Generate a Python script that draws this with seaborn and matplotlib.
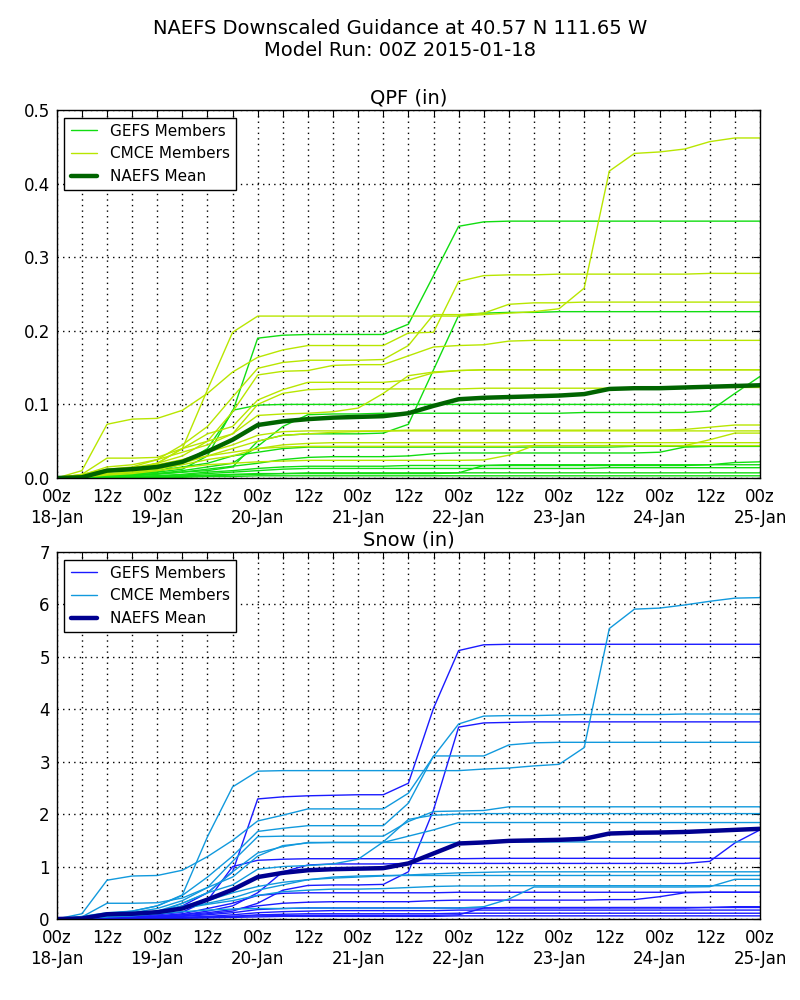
import pandas as pd
import matplotlib
matplotlib.use("Agg")
import matplotlib.pyplot as plt
from matplotlib.lines import Line2D
import seaborn as sns

# ------------------------------------------------------------
# forecast hours (6-hourly, 00z 18-Jan .. 00z 25-Jan)
# ------------------------------------------------------------
hours = [0, 6, 12, 18, 24, 30, 36, 42, 48, 54, 60, 66, 72, 78, 84, 90,
         96, 102, 108, 114, 120, 126, 132, 138, 144, 150, 156, 162, 168]
tick_labels = ["00z\n18-Jan", "", "12z", "", "00z\n19-Jan", "", "12z", "",
               "00z\n20-Jan", "", "12z", "", "00z\n21-Jan", "", "12z", "",
               "00z\n22-Jan", "", "12z", "", "00z\n23-Jan", "", "12z", "",
               "00z\n24-Jan", "", "12z", "", "00z\n25-Jan"]

# ------------------------------------------------------------
# QPF (in) - GEFS members
# ------------------------------------------------------------
qpf_gefs = [
    [0, .002, .004, .006, .008, .02, .04, .09, .19, .194, .195, .195, .195, .195, .209, .275,
     .342, .348, .349, .349, .349, .349, .349, .349, .349, .349, .349, .349, .349],
    [0, .001, .002, .003, .005, .008, .01, .015, .05, .058, .06, .06, .06, .061, .073, .147,
     .221, .224, .225, .225, .226, .226, .226, .226, .226, .226, .226, .226, .226],
    [0, .001, .003, .005, .008, .012, .03, .092, .099, .1, .1, .1, .1, .1, .1, .1,
     .1, .1, .1, .1, .1, .1, .1, .1, .1, .1, .1, .1, .1],
    [0, .001, .002, .004, .006, .01, .015, .02, .043, .07, .086, .087, .087, .088, .088, .088,
     .088, .088, .088, .088, .088, .089, .089, .089, .089, .089, .091, .115, .138],
    [0, .001, .002, .004, .006, .008, .012, .016, .02, .025, .028, .029, .029, .029, .03, .033,
     .034, .034, .034, .034, .034, .034, .034, .034, .035, .042, .043, .043, .043],
    [0, .001, .003, .006, .01, .015, .02, .03, .035, .04, .042, .042, .042, .042, .042, .042,
     .042, .042, .042, .042, .042, .042, .042, .043, .043, .043, .043, .043, .043],
    [0, 0, .001, .002, .003, .005, .008, .01, .013, .015, .016, .016, .016, .016, .017, .017,
     .017, .017, .017, .017, .017, .017, .017, .017, .017, .017, .018, .021, .022],
    [0, 0, .001, .001, .002, .003, .004, .005, .006, .006, .006, .006, .006, .006, .006, .006,
     .007, .017, .018, .018, .018, .018, .018, .018, .018, .018, .018, .018, .018],
    [0, 0, .001, .002, .003, .004, .006, .008, .01, .012, .013, .013, .013, .013, .013, .013,
     .013, .013, .013, .013, .013, .013, .014, .014, .014, .014, .014, .014, .014],
    [0, 0, 0, .001, .001, .002, .003, .004, .005, .006, .007, .007, .007, .007, .007, .007,
     .007, .007, .007, .007, .007, .007, .007, .007, .007, .007, .007, .007, .007],
    [0, 0, 0, 0, .001, .001, .002, .002, .003, .003, .003, .003, .003, .003, .003, .003,
     .003, .003, .003, .003, .003, .003, .003, .003, .003, .003, .003, .003, .003],
]

# QPF (in) - CMCE members
qpf_cmce = [
    [0, .003, .008, .012, .02, .04, .12, .198, .22, .22, .22, .22, .22, .22, .22, .22,
     .22, .222, .224, .226, .23, .258, .417, .441, .443, .447, .457, .462, .462],
    [0, .01, .073, .08, .081, .092, .115, .144, .164, .174, .18, .18, .18, .18, .197, .198,
     .267, .275, .276, .276, .277, .277, .277, .277, .277, .277, .278, .278, .278],
    [0, .005, .012, .015, .025, .045, .07, .11, .149, .157, .16, .16, .16, .161, .18, .222,
     .222, .224, .236, .238, .238, .239, .239, .239, .239, .239, .239, .239, .239],
    [0, .004, .01, .014, .02, .03, .05, .09, .14, .145, .146, .153, .154, .154, .166, .178,
     .18, .181, .186, .187, .187, .187, .187, .187, .187, .187, .187, .187, .187],
    [0, .003, .008, .012, .02, .04, .05, .06, .085, .087, .088, .09, .095, .115, .139, .144,
     .146, .147, .147, .147, .147, .147, .147, .147, .147, .147, .147, .147, .147],
    [0, .005, .027, .027, .028, .04, .06, .07, .106, .12, .13, .13, .13, .13, .133, .143,
     .146, .147, .147, .147, .147, .147, .147, .147, .147, .147, .147, .147, .147],
    [0, .004, .015, .018, .025, .035, .045, .06, .1, .115, .12, .121, .121, .121, .121, .121,
     .121, .122, .122, .122, .122, .122, .122, .123, .123, .123, .123, .123, .123],
    [0, .003, .01, .012, .018, .025, .035, .045, .058, .063, .064, .064, .064, .064, .064, .064,
     .064, .064, .064, .064, .064, .064, .064, .064, .064, .064, .064, .064, .064],
    [0, .002, .008, .01, .015, .022, .03, .04, .05, .058, .06, .062, .063, .064, .065, .065,
     .065, .065, .065, .065, .065, .065, .065, .065, .065, .066, .069, .072, .072],
    [0, .002, .006, .008, .012, .018, .025, .03, .04, .045, .047, .048, .048, .048, .048, .048,
     .048, .048, .048, .048, .048, .048, .048, .048, .048, .048, .048, .048, .048],
    [0, .001, .004, .006, .01, .014, .018, .02, .022, .023, .024, .024, .024, .024, .024, .024,
     .024, .0245, .031, .044, .044, .044, .044, .044, .044, .044, .052, .061, .061],
    [0, .002, .005, .008, .012, .02, .03, .035, .04, .042, .043, .043, .043, .043, .043, .043,
     .043, .043, .043, .044, .044, .044, .044, .044, .044, .044, .044, .044, .044],
]

qpf_mean = [0, .001, .01, .012, .015, .022, .036, .052, .072, .077, .08, .082, .083, .084, .088, .098,
            .107, .109, .11, .111, .112, .114, .121, .122, .122, .123, .124, .125, .126]

# ------------------------------------------------------------
# Snow (in) - GEFS members
# ------------------------------------------------------------
snow_gefs = [
    [0, .02, .05, .08, .1, .25, .5, .9, 2.29, 2.33, 2.35, 2.36, 2.37, 2.37, 2.59, 4.02,
     5.12, 5.23, 5.24, 5.24, 5.24, 5.24, 5.24, 5.24, 5.24, 5.24, 5.24, 5.24, 5.24],
    [0, .01, .02, .03, .04, .06, .1, .15, .3, .55, .64, .65, .65, .66, .9, 2.08,
     3.66, 3.74, 3.75, 3.76, 3.76, 3.76, 3.76, 3.76, 3.76, 3.76, 3.76, 3.76, 3.76],
    [0, .01, .03, .05, .08, .13, .35, 1.0, 1.12, 1.14, 1.15, 1.15, 1.15, 1.15, 1.15, 1.15,
     1.15, 1.155, 1.157, 1.157, 1.157, 1.157, 1.157, 1.157, 1.157, 1.157, 1.157, 1.157, 1.157],
    [0, .01, .02, .03, .05, .08, .15, .25, .5, .9, 1.03, 1.05, 1.05, 1.05, 1.06, 1.06,
     1.06, 1.06, 1.06, 1.06, 1.06, 1.06, 1.06, 1.06, 1.06, 1.06, 1.1, 1.45, 1.7],
    [0, .01, .02, .04, .06, .1, .2, .3, .45, .49, .5, .5, .5, .5, .5, .5,
     .51, .51, .51, .51, .51, .51, .51, .51, .51, .51, .51, .51, .51],
    [0, .01, .02, .03, .05, .08, .12, .18, .25, .3, .32, .33, .33, .33, .33, .35,
     .36, .36, .36, .36, .36, .36, .37, .37, .425, .5, .51, .51, .51],
    [0, 0, .01, .02, .03, .05, .08, .12, .18, .2, .21, .21, .21, .21, .21, .21,
     .21, .21, .21, .21, .21, .21, .21, .21, .21, .21, .22, .235, .235],
    [0, 0, .005, .01, .02, .03, .04, .05, .06, .065, .07, .07, .07, .07, .07, .07,
     .08, .21, .22, .22, .22, .22, .22, .22, .22, .22, .22, .22, .22],
    [0, 0, .005, .01, .02, .03, .05, .08, .12, .14, .15, .16, .16, .16, .16, .16,
     .17, .17, .17, .17, .17, .17, .17, .17, .17, .17, .17, .17, .17],
    [0, 0, .005, .01, .015, .02, .03, .05, .08, .09, .1, .1, .1, .1, .1, .1,
     .11, .11, .11, .11, .11, .11, .11, .11, .11, .11, .11, .11, .11],
    [0, 0, 0, .005, .01, .015, .02, .03, .04, .05, .05, .05, .05, .05, .05, .05,
     .06, .06, .06, .06, .06, .06, .06, .06, .06, .06, .06, .06, .06],
]

# Snow (in) - CMCE members
snow_cmce = [
    [0, .04, .1, .15, .25, .46, 1.57, 2.52, 2.82, 2.83, 2.83, 2.83, 2.83, 2.83, 2.83, 2.83,
     2.83, 2.86, 2.88, 2.92, 2.95, 3.27, 5.54, 5.91, 5.93, 5.99, 6.06, 6.12, 6.13],
    [0, .1, .74, .82, .83, .93, 1.19, 1.5, 1.87, 1.98, 2.1, 2.1, 2.1, 2.1, 2.4, 3.1,
     3.72, 3.87, 3.88, 3.88, 3.89, 3.9, 3.9, 3.9, 3.9, 3.91, 3.91, 3.91, 3.91],
    [0, .05, .12, .15, .25, .45, .8, 1.2, 1.67, 1.73, 1.78, 1.78, 1.78, 1.78, 2.21, 3.11,
     3.11, 3.11, 3.32, 3.36, 3.37, 3.37, 3.37, 3.37, 3.37, 3.37, 3.37, 3.37, 3.37],
    [0, .03, .1, .12, .2, .35, .6, 1.1, 1.57, 1.58, 1.58, 1.58, 1.58, 1.58, 1.86, 2.05,
     2.06, 2.07, 2.14, 2.14, 2.14, 2.14, 2.14, 2.14, 2.14, 2.14, 2.14, 2.14, 2.14],
    [0, .03, .08, .1, .15, .3, .5, .9, 1.26, 1.38, 1.46, 1.46, 1.46, 1.46, 1.58, 1.7,
     1.84, 1.84, 1.84, 1.84, 1.84, 1.84, 1.84, 1.84, 1.84, 1.84, 1.84, 1.84, 1.84],
    [0, .02, .05, .08, .12, .3, .5, .65, .95, 1.0, 1.02, 1.05, 1.14, 1.47, 1.9, 1.98,
     2.0, 2.01, 2.01, 2.01, 2.01, 2.01, 2.01, 2.01, 2.01, 2.01, 2.01, 2.01, 2.01],
    [0, .04, .3, .3, .31, .4, .6, .8, 1.2, 1.4, 1.45, 1.46, 1.46, 1.46, 1.46, 1.46,
     1.46, 1.47, 1.47, 1.47, 1.47, 1.47, 1.47, 1.47, 1.47, 1.47, 1.47, 1.47, 1.47],
    [0, .02, .08, .1, .15, .25, .35, .5, .62, .7, .75, .78, .8, .82, .84, .86,
     .88, .89, .9, .9, .9, .9, .9, .9, .9, .9, .9, .9, .9],
    [0, .02, .06, .08, .12, .2, .3, .4, .55, .65, .75, .8, .82, .83, .83, .83,
     .83, .83, .83, .83, .83, .83, .83, .83, .83, .83, .83, .83, .83],
    [0, .01, .04, .06, .1, .14, .17, .19, .2, .2, .21, .21, .21, .21, .21, .21,
     .21, .235, .38, .61, .61, .61, .61, .61, .61, .61, .616, .757, .757],
    [0, .02, .05, .08, .12, .2, .28, .35, .45, .52, .55, .57, .57, .58, .6, .62,
     .63, .63, .635, .635, .635, .635, .635, .635, .635, .635, .635, .635, .635],
]

snow_mean = [0, .01, .09, .1, .13, .2, .37, .56, .8, .88, .93, .95, .96, .97, 1.06, 1.25,
             1.44, 1.46, 1.49, 1.5, 1.51, 1.53, 1.63, 1.645, 1.65, 1.66, 1.68, 1.70, 1.72]

qpf_yticks = [0.0, 0.1, 0.2, 0.3, 0.4, 0.5]
qpf_ylabels = ["0.0", "0.1", "0.2", "0.3", "0.4", "0.5"]
snow_yticks = [0, 1, 2, 3, 4, 5, 6, 7]
snow_ylabels = ["0", "1", "2", "3", "4", "5", "6", "7"]


def to_long(members, group):
    rows = []
    for k, vals in enumerate(members):
        assert len(vals) == len(hours), (group, k, len(vals))
        for h, v in zip(hours, vals):
            rows.append({"hour": h, "value": v, "member": f"{group}_{k}", "group": group})
    return pd.DataFrame(rows)


def panel(ax, gefs, cmce, mean, c_gefs, c_cmce, c_mean, title, yticks, ylabels):
    df = pd.concat([to_long(gefs, "GEFS Members"), to_long(cmce, "CMCE Members")],
                   ignore_index=True)
    sns.lineplot(data=df, x="hour", y="value", hue="group", units="member",
                 estimator=None, palette={"GEFS Members": c_gefs, "CMCE Members": c_cmce},
                 linewidth=1.0, ax=ax, legend=False)
    sns.lineplot(x=hours, y=mean, color=c_mean, linewidth=3.2, ax=ax)

    ax.set_xlim(hours[0], hours[-1])
    ax.set_ylim(yticks[0], yticks[-1])
    ax.set_xticks(hours)
    ax.set_xticklabels(tick_labels)
    ax.set_yticks(yticks)
    ax.set_yticklabels(ylabels)
    ax.set_xlabel("")
    ax.set_ylabel("")
    ax.grid(True, color="k", linestyle=(0, (1, 3)), linewidth=1.0)
    ax.tick_params(direction="in", top=True, right=True, length=5, width=0.8,
                   labelsize=12, colors="k")
    ax.tick_params(axis="y", pad=5)
    ax.tick_params(axis="x", pad=7)
    for sp in ax.spines.values():
        sp.set_color("k")
        sp.set_linewidth(1.0)
    ax.set_title(title, fontsize=14, pad=5, color="k")

    handles = [Line2D([], [], color=c_gefs, lw=1.0),
               Line2D([], [], color=c_cmce, lw=1.0),
               Line2D([], [], color=c_mean, lw=3.2)]
    leg = ax.legend(handles, ["GEFS Members", "CMCE Members", "NAEFS Mean"],
                    loc="upper left", fontsize=11, frameon=True, fancybox=False,
                    edgecolor="k", framealpha=1, handlelength=1.7,
                    borderaxespad=0.5, handletextpad=0.9)
    leg.get_frame().set_linewidth(1.0)
    for t in leg.get_texts():
        t.set_color("k")


sns.set_style("white")
plt.rcParams["font.family"] = ["DejaVu Sans"]
plt.rcParams["text.color"] = "black"
plt.rcParams["axes.labelcolor"] = "black"
plt.rcParams["xtick.color"] = "black"
plt.rcParams["ytick.color"] = "black"

fig = plt.figure(figsize=(8, 10), dpi=100)
ax1 = fig.add_axes([0.071, 0.522, 0.879, 0.368])
ax2 = fig.add_axes([0.071, 0.081, 0.879, 0.367])

panel(ax1, qpf_gefs, qpf_cmce, qpf_mean, "#11dd11", "#b8e600", "#006400",
      "QPF (in)", qpf_yticks, qpf_ylabels)
panel(ax2, snow_gefs, snow_cmce, snow_mean, "#1a1aff", "#1199dd", "#000090",
      "Snow (in)", snow_yticks, snow_ylabels)

fig.text(0.5, 0.981, "NAEFS Downscaled Guidance at 40.57 N 111.65 W\nModel Run: 00Z 2015-01-18",
         ha="center", va="top", fontsize=14, color="k")

fig.savefig("out.png", dpi=100, facecolor="white")
